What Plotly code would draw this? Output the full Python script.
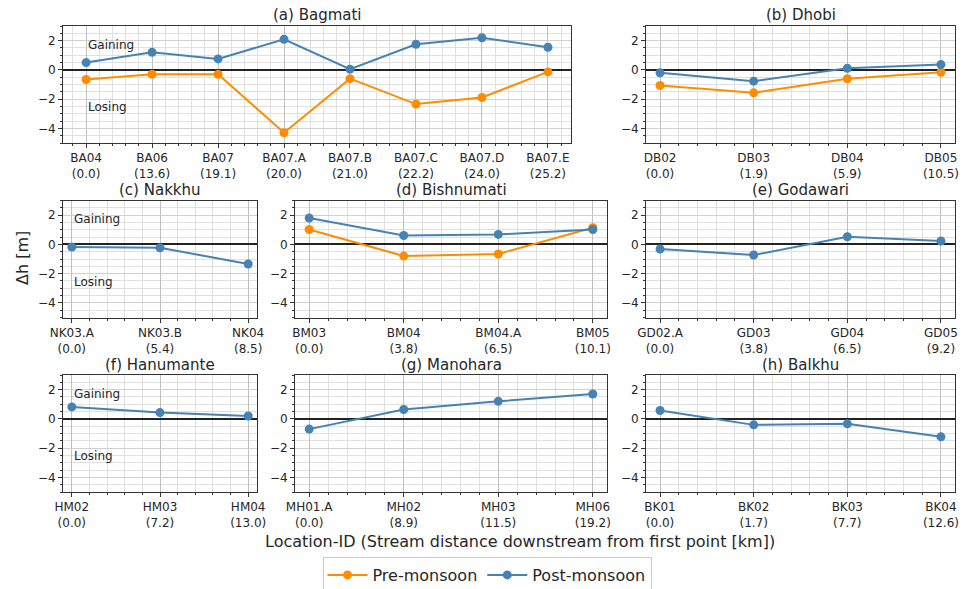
import plotly.graph_objects as go

W, H = 969, 589

# ---- data ----
ba_ids = ["BA04", "BA06", "BA07", "BA07.A", "BA07.B", "BA07.C", "BA07.D", "BA07.E"]
ba_km = [0.0, 13.6, 19.1, 20.0, 21.0, 22.2, 24.0, 25.2]
ba_pre = [-0.66, -0.30, -0.30, -4.30, -0.60, -2.34, -1.89, -0.14]
ba_post = [0.50, 1.20, 0.75, 2.09, 0.05, 1.75, 2.20, 1.55]

db_ids = ["DB02", "DB03", "DB04", "DB05"]
db_km = [0.0, 1.9, 5.9, 10.5]
db_pre = [-1.07, -1.57, -0.61, -0.16]
db_post = [-0.20, -0.77, 0.11, 0.36]

nk_ids = ["NK03.A", "NK03.B", "NK04"]
nk_km = [0.0, 5.4, 8.5]
nk_post = [-0.18, -0.23, -1.34]

bm_ids = ["BM03", "BM04", "BM04.A", "BM05"]
bm_km = [0.0, 3.8, 6.5, 10.1]
bm_pre = [1.02, -0.80, -0.66, 1.14]
bm_post = [1.80, 0.61, 0.68, 1.02]

gd_ids = ["GD02.A", "GD03", "GD04", "GD05"]
gd_km = [0.0, 3.8, 6.5, 9.2]
gd_post = [-0.32, -0.73, 0.52, 0.23]

hm_ids = ["HM02", "HM03", "HM04"]
hm_km = [0.0, 7.2, 13.0]
hm_post = [0.82, 0.43, 0.20]

mh_ids = ["MH01.A", "MH02", "MH03", "MH06"]
mh_km = [0.0, 8.9, 11.5, 19.2]
mh_post = [-0.70, 0.64, 1.20, 1.70]

bk_ids = ["BK01", "BK02", "BK03", "BK04"]
bk_km = [0.0, 1.7, 7.7, 12.6]
bk_post = [0.57, -0.41, -0.34, -1.23]

PRE_C = "#ff8c00"
POST_C = "#4682b4"
FONT = "DejaVu Sans"
TXT = "#262626"

# panel: title, ids, km, pre, post, x-pixels, row, gaining/losing text
rows_px = [(26, 143), (200.5, 317.5), (375, 492)]
panels = [
    ("(a) Bagmati", ba_ids, ba_km, ba_pre, ba_post, (63, 571), 0, True),
    ("(b) Dhobi", db_ids, db_km, db_pre, db_post, (646, 955), 0, False),
    ("(c) Nakkhu", nk_ids, nk_km, None, nk_post, (63, 257), 1, True),
    ("(d) Bishnumati", bm_ids, bm_km, bm_pre, bm_post, (295, 607), 1, False),
    ("(e) Godawari", gd_ids, gd_km, None, gd_post, (646, 955), 1, False),
    ("(f) Hanumante", hm_ids, hm_km, None, hm_post, (63, 257), 2, True),
    ("(g) Manohara", mh_ids, mh_km, None, mh_post, (295, 607), 2, False),
    ("(h) Balkhu", bk_ids, bk_km, None, bk_post, (646, 955), 2, False),
]

fig = go.Figure()
annotations = []
legend_done = {"pre": False, "post": False}

for i, (title, ids, km, pre, post, (x0, x1), row, gl) in enumerate(panels):
    n = i + 1
    xa = "x" if n == 1 else f"x{n}"
    ya = "y" if n == 1 else f"y{n}"
    y0p, y1p = rows_px[row]
    xs = list(range(len(ids)))
    labels = [f"{a}<br>({k:.1f})" for a, k in zip(ids, km)]
    pad = 0.05 * (len(ids) - 1)

    if pre is not None:
        fig.add_trace(go.Scatter(
            x=xs, y=pre, xaxis=xa, yaxis=ya, mode="lines+markers",
            name="Pre-monsoon", legendgroup="pre", showlegend=not legend_done["pre"],
            line=dict(color=PRE_C, width=2), marker=dict(color=PRE_C, size=9)))
        legend_done["pre"] = True
    fig.add_trace(go.Scatter(
        x=xs, y=post, xaxis=xa, yaxis=ya, mode="lines+markers",
        name="Post-monsoon", legendgroup="post", showlegend=not legend_done["post"],
        line=dict(color=POST_C, width=2), marker=dict(color=POST_C, size=9)))
    legend_done["post"] = True

    xkey = "xaxis" if n == 1 else f"xaxis{n}"
    ykey = "yaxis" if n == 1 else f"yaxis{n}"
    fig.layout[xkey] = dict(
        domain=[x0 / W, x1 / W], anchor=ya, range=[-pad, len(ids) - 1 + pad],
        automargin=False,
        tickmode="array", tickvals=xs, ticktext=labels,
        showgrid=True, gridcolor="#c0c0c0", gridwidth=1,
        minor=dict(dtick=0.2, tick0=0, showgrid=True, gridcolor="#e0e0e0",
                   ticks="outside", ticklen=2, tickcolor="#333"),
        ticks="outside", ticklen=4, tickcolor="#333", ticklabelstandoff=0,
        showline=True, linecolor="#333", linewidth=1, mirror=True,
        zeroline=False, tickfont=dict(size=12, color=TXT, family=FONT))
    fig.layout[ykey] = dict(
        domain=[1 - y1p / H, 1 - y0p / H], anchor=xa, range=[-5, 3],
        automargin=False,
        tickmode="linear", tick0=0, dtick=2,
        showgrid=True, gridcolor="#d0d0d0", gridwidth=1,
        minor=dict(dtick=0.5, tick0=0, showgrid=True, gridcolor="#e0e0e0",
                   ticks="outside", ticklen=2, tickcolor="#333"),
        ticks="outside", ticklen=4, tickcolor="#333",
        showline=True, linecolor="#333", linewidth=1, mirror=True,
        zeroline=True, zerolinecolor="#222", zerolinewidth=1.5,
        tickfont=dict(size=12, color=TXT, family=FONT))

    annotations.append(dict(
        text=title, xref="paper", yref="paper", x=(x0 + x1) / 2 / W,
        y=1 - (y0p - 10.5) / H, xanchor="center", yanchor="middle", showarrow=False,
        font=dict(size=15, color=TXT, family=FONT)))
    if gl:
        annotations.append(dict(text="Gaining", xref=xa, yref=ya, x=0, y=1.72,
                                xanchor="left", yanchor="middle", showarrow=False,
                                font=dict(size=12, color=TXT, family=FONT)))
        annotations.append(dict(text="Losing", xref=xa, yref=ya, x=0, y=-2.57,
                                xanchor="left", yanchor="middle", showarrow=False,
                                font=dict(size=12, color=TXT, family=FONT)))

annotations.append(dict(
    text="Location-ID (Stream distance downstream from first point [km])",
    xref="paper", yref="paper", x=520 / W, y=1 - 541 / H, xanchor="center",
    yanchor="middle", showarrow=False, font=dict(size=16, color=TXT, family=FONT)))
annotations.append(dict(
    text="Δh [m]", xref="paper", yref="paper", x=22 / W, y=1 - 258 / H,
    xanchor="center", yanchor="middle", textangle=-90, showarrow=False,
    font=dict(size=16, color=TXT, family=FONT)))

fig.update_layout(
    template="none",
    width=W, height=H, margin=dict(l=0, r=0, t=0, b=0, autoexpand=False),
    paper_bgcolor="white", plot_bgcolor="white",
    font=dict(family=FONT, color=TXT),
    annotations=annotations,
    showlegend=True,
    legend=dict(orientation="h", x=487 / W, xanchor="center", y=1 - 557 / H,
                yanchor="top", bordercolor="#cccccc", borderwidth=1,
                bgcolor="white", font=dict(size=16, family=FONT, color=TXT),
                itemwidth=40),
)

# page body has a default 8px margin; drop it so the figure sits at (0, 0)
fig.write_html("out.html", config={"displayModeBar": False},
               post_script="document.body.style.margin='0';")
